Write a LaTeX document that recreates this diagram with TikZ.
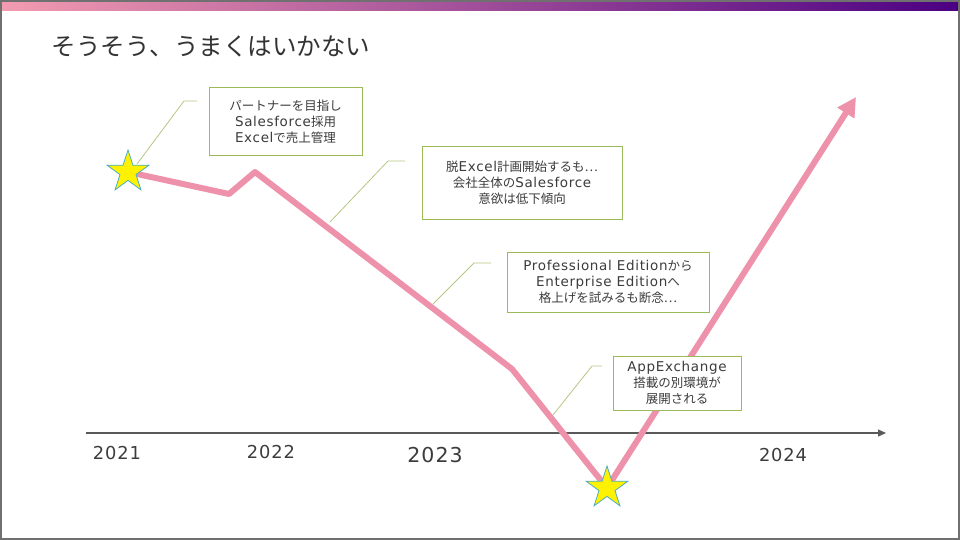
\documentclass[tikz,border=0pt]{standalone}
\usepackage{fontspec}
\setmainfont{Noto Sans CJK JP}
\newfontfamily\latinfont[Scale=1.08, LetterSpace=5]{DejaVu Sans}
\usepackage{xcolor}
\usetikzlibrary{arrows.meta, shapes.geometric}

\definecolor{barpink}{RGB}{243,155,176}
\definecolor{barpurple}{RGB}{75,0,130}
\definecolor{trendpink}{RGB}{238,146,172}
\definecolor{noteolive}{RGB}{155,187,89}
\definecolor{leaderolive}{RGB}{180,200,130}
\definecolor{starrim}{RGB}{75,172,198}
\definecolor{axisgray}{RGB}{89,89,89}
\definecolor{txtgray}{RGB}{60,60,60}
\definecolor{framegray}{RGB}{112,112,112}

\newcommand{\lt}[1]{{\latinfont #1}}

\begin{document}
\begin{tikzpicture}[
			x=1pt, y=-1pt,
			every node/.style={font=\fontsize{12.5}{16}\selectfont, text=txtgray},
			note/.style={draw=noteolive, line width=1pt, fill=white, align=center, inner sep=0pt},
			leader/.style={draw=leaderolive, line width=0.8pt},
			trend/.style={draw=trendpink, line width=6pt, line join=round},
			milestone/.style={star, star points=5, star point ratio=2.618, minimum size=44pt, inner sep=0pt, fill=yellow, draw=starrim, line width=0.8pt},
			year/.style={font=\fontsize{16.5}{20}\selectfont\latinfont},
			axis/.style={draw=axisgray, line width=1.2pt, -{Triangle[length=8pt, width=7pt]}},
			]
			
			\useasboundingbox (0,0) rectangle (960,540);
			\fill[white] (0,0) rectangle (960,540);
			\shade[left color=barpink, right color=barpurple] (2,2) rectangle (958,11);
			\draw[framegray, line width=2pt] (1,1) rectangle (959,539);
			
			\node[anchor=west, font=\fontsize{24.5}{28}\selectfont, text=black!80] (title) at (48,46) {そうそう、うまくはいかない};
			
			% time axis
			\coordinate (axisstart) at (86,433);
			\coordinate (axisend) at (886,433);
			\draw[axis] (axisstart) -- (axisend);
			
			\node[year] (y2021) at (117,453) {2021};
			\node[year] (y2022) at (271,452) {2022};
			\node[year, font=\fontsize{19}{24}\selectfont\latinfont] (y2023) at (435,455) {2023};
			\node[year] (y2024) at (783,455) {2024};
			
			% trend line
			\coordinate (start) at (128,172);
			\coordinate (dip) at (229,194);
			\coordinate (peak) at (255,172);
			\coordinate (knee) at (512,369);
			\coordinate (bottom) at (607,488);
			\coordinate (tip) at (856,97);
			\draw[trend, -{Triangle[length=19pt, width=19pt]}] (start) -- (dip) -- (peak) -- (knee) -- (bottom) -- (tip);
			
			\node[milestone] (star1) at (start) {};
			\node[milestone] (star2) at (bottom) {};
			
			% notes
			\node[note, minimum width=153pt, minimum height=68pt] (note1) at (285.5,122) {パートナーを目指し\\\lt{Salesforce}採用\\\lt{Excel}で売上管理};
			\node[note, minimum width=200pt, minimum height=72pt] (note2) at (522,183) {脱\lt{Excel}計画開始するも…\\会社全体の\lt{Salesforce}\\意欲は低下傾向};
			\node[note, minimum width=202pt, minimum height=60pt] (note3) at (608,282) {\lt{Professional Edition}から\\\lt{Enterprise Edition}へ\\格上げを試みるも断念…};
			\node[note, minimum width=128pt, minimum height=54pt] (note4) at (677,383) {\lt{AppExchange}\\搭載の別環境が\\展開される};
			
			\coordinate (lead1a) at (137,164);
			\coordinate (lead1b) at (184,101);
			\coordinate (lead1c) at (197,101);
			\coordinate (lead2a) at (330,222);
			\coordinate (lead2b) at (388,161);
			\coordinate (lead2c) at (405,161);
			\coordinate (lead3a) at (433,304);
			\coordinate (lead3b) at (474,263);
			\coordinate (lead3c) at (491,263);
			\coordinate (lead4a) at (553,415);
			\coordinate (lead4b) at (592,366);
			\coordinate (lead4c) at (602,366);
			\draw[leader] (lead1a) -- (lead1b) -- (lead1c);
			\draw[leader] (lead2a) -- (lead2b) -- (lead2c);
			\draw[leader] (lead3a) -- (lead3b) -- (lead3c);
			\draw[leader] (lead4a) -- (lead4b) -- (lead4c);
			
		\end{tikzpicture}
\end{document}
